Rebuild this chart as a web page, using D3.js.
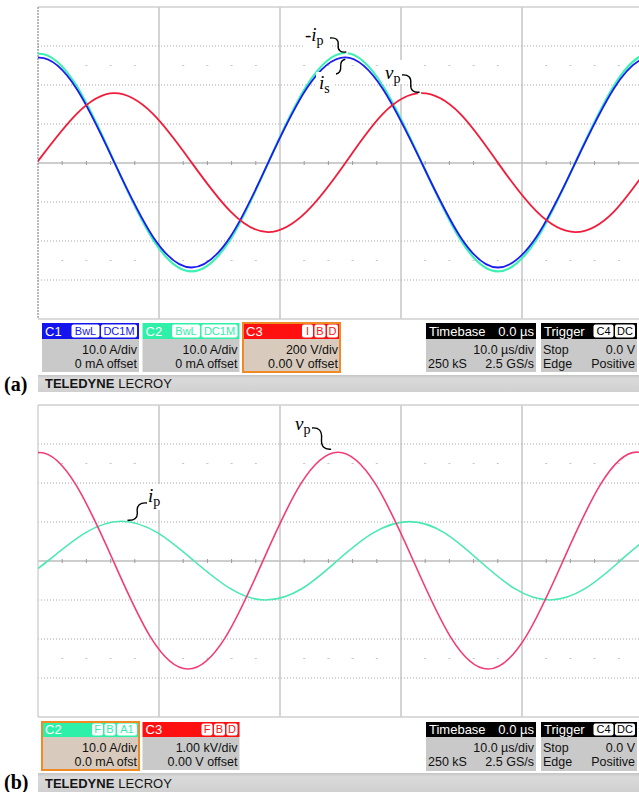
<!DOCTYPE html>
<html>
<head>
<meta charset="utf-8">
<script src="https://cdn.jsdelivr.net/npm/d3@7"></script>
<style>
  html, body { margin: 0; padding: 0; background: #fff; }
  svg { display: block; }
  .stat { font-family: "Liberation Sans", Arial, sans-serif; }
</style>
</head>
<body>
<svg id="chart" width="639" height="792"></svg>
<script>
// ---- Panel (a): currents (A) and primary voltage (V) versus time (µs) ----
const timeA  = [-3.2, 0, 3.2, 6.3, 9.5, 12.7, 15.9, 19.0, 22.2, 25.4, 28.5, 31.7, 34.9, 38.0, 41.2, 44.4, 47.6, 50.7, 53.9];
const isA    = [19.0, 27.0, 19.0, 0.2, -18.9, -26.8, -18.9, -0.1, 19.1, 27.1, 19.0, 0.1, -18.9, -26.8, -18.9, 0.0, 19.1, 27.0, 19.0];
const ipNegA = [19.7, 28.0, 19.7, 0.3, -19.6, -27.8, -19.6, -0.1, 19.8, 28.2, 19.8, 0.2, -19.6, -27.8, -19.6, 0.1, 19.8, 28.0, 19.8];
const vpA    = [-249, 10, 252, 358, 252, 2, -248, -354, -249, 0, 252, 358, 252, 2, -248, -354, -249, 0, 252];

// ---- Panel (b): primary voltage (kV) and primary current (A) ----
const timeBv = [-3.1, 0, 3.1, 6.2, 9.3, 12.4, 15.5, 18.6, 21.7, 24.8, 27.9, 31.0, 34.1, 37.2, 40.3, 43.4, 46.5, 49.6, 52.7];
const vpB    = [1.96, 2.78, 1.97, 0.02, -1.95, -2.77, -1.95, 0.01, 1.97, 2.79, 1.97, 0.02, -1.95, -2.77, -1.95, 0.01, 1.97, 2.79, 1.97];
const timeBi = [-2.2, 0.8, 3.9, 6.9, 9.9, 12.9, 15.9, 18.8, 21.8, 24.7, 27.7, 30.7, 33.6, 36.5, 39.4, 42.3, 45.2, 48.1, 51.0, 54.0];
const ipB    = [-7.1, 0, 7.2, 10.2, 7.2, 0, -7.1, -10.0, -7.1, 0, 7.2, 10.1, 7.2, 0, -7.1, -10.0, -7.1, 0, 7.1, 10.1];

// ---- Readout panel texts ----
const chanA = [
  { name: "C1", tags: ["BwL", "DC1M"], lines: ["10.0 A/div", "0 mA offset"], color: "#1414ee", active: false },
  { name: "C2", tags: ["BwL", "DC1M"], lines: ["10.0 A/div", "0 mA offset"], color: "#2ef0a8", active: false },
  { name: "C3", tags: ["I", "B", "D"],  lines: ["200 V/div", "0.00 V offset"], color: "#ff1010", active: true }
];
const chanB = [
  { name: "C2", tags: ["F", "B", "A1"], lines: ["10.0 A/div", "0.0 mA ofst"], color: "#2ef0a8", active: true },
  { name: "C3", tags: ["F", "B", "D"],  lines: ["1.00 kV/div", "0.00 V offset"], color: "#ff1010", active: false }
];
const timebaseText = { head: ["Timebase", "0.0 µs"], lines: [["", "10.0 µs/div"], ["250 kS", "2.5 GS/s"]] };
const triggerText  = { head: ["Trigger"], tags: ["C4", "DC"], lines: [["Stop", "0.0 V"], ["Edge", "Positive"]] };

const svg = d3.select("#chart");
const W = 639;
const left = 38, right = 643;
const divPx = 39;
const FS = 12.5;      // readout font size
const LINE = 14;      // readout line spacing

const x = d3.scaleLinear().domain([0, 50]).range([left, right]);

function zip(ts, vs) { return ts.map((t, i) => [t, vs[i]]); }

function drawGrid(g, top, bottom, leftStroke, dashedLeft) {
  const mid = (top + bottom) / 2;
  // vertical major lines every 10 µs
  g.selectAll(".vg").data([10, 20, 30, 40]).join("line")
    .attr("x1", d => x(d)).attr("x2", d => x(d))
    .attr("y1", top).attr("y2", bottom)
    .attr("stroke", "#d4d4d4").attr("stroke-width", 2);
  // horizontal dotted lines, one per division
  const hdiv = d3.range(1, 8).filter(i => i !== 4);
  g.selectAll(".hg").data(hdiv).join("line")
    .attr("x1", left).attr("x2", W)
    .attr("y1", i => top + i * divPx).attr("y2", i => top + i * divPx)
    .attr("stroke", "#a8a8a8").attr("stroke-width", 1)
    .attr("stroke-dasharray", "1,2");
  // centre line with minor ticks every 2 µs
  g.append("line").attr("x1", left).attr("x2", W).attr("y1", mid).attr("y2", mid)
    .attr("stroke", "#bdbdbd").attr("stroke-width", 1.5);
  const minor = d3.range(2, 52, 2).filter(t => t % 10 !== 0);
  g.selectAll(".mt").data(minor).join("line")
    .attr("x1", d => x(d)).attr("x2", d => x(d))
    .attr("y1", mid - 2).attr("y2", mid + 2)
    .attr("stroke", "#9a9a9a").attr("stroke-width", 1);
  // faint tick rows at ±2.5 divisions
  [mid - 2.5 * divPx, mid + 2.5 * divPx].forEach(yy => {
    g.selectAll(null).data(minor).join("line")
      .attr("x1", d => x(d) - 1).attr("x2", d => x(d) + 1)
      .attr("y1", yy).attr("y2", yy)
      .attr("stroke", "#c4c4c4").attr("stroke-width", 1);
  });
  // frame
  g.append("line").attr("x1", left).attr("x2", W).attr("y1", top).attr("y2", top)
    .attr("stroke", "#cfcfcf").attr("stroke-width", 1.5);
  g.append("line").attr("x1", left).attr("x2", W).attr("y1", bottom).attr("y2", bottom)
    .attr("stroke", "#cfcfcf").attr("stroke-width", 1.5);
  g.append("line").attr("x1", left).attr("x2", left).attr("y1", top).attr("y2", bottom)
    .attr("stroke", leftStroke).attr("stroke-width", 1.2).attr("stroke-dasharray", dashedLeft ? "2,1" : null);
}

function drawTrace(g, pts, yScale, color, width, clipId) {
  const line = d3.line().x(d => x(d[0])).y(d => yScale(d[1])).curve(d3.curveNatural);
  g.append("path").attr("d", line(pts))
    .attr("fill", "none").attr("stroke", color).attr("stroke-width", width)
    .attr("clip-path", `url(#${clipId})`);
}

function label(g, main, sub, tx, ty, prefix) {
  const t = g.append("text")
    .attr("x", tx).attr("y", ty)
    .attr("font-family", "'Liberation Serif', 'DejaVu Serif', serif")
    .attr("font-size", 19).attr("fill", "#000");
  if (prefix) t.append("tspan").text(prefix);
  t.append("tspan").attr("font-style", "italic").text(main);
  t.append("tspan").attr("font-size", 14).attr("dy", 4).text(sub);
  return t;
}

function leader(g, x0, y0, x1, y1) {
  // small S-shaped leader from the label to the trace
  const mx = (x0 + x1) / 2, my = (y0 + y1) / 2;
  const p = d3.path();
  p.moveTo(x0, y0);
  p.quadraticCurveTo(x0 + (x1 - x0) * 0.55, y0 - 1, mx, my);
  p.quadraticCurveTo(x1 - (x1 - x0) * 0.55, y1 + 1, x1, y1);
  g.append("path").attr("d", p.toString()).attr("fill", "none")
    .attr("stroke", "#000").attr("stroke-width", 1.4);
}

const defs = svg.append("defs");
function addClip(id, top, bottom) {
  defs.append("clipPath").attr("id", id).append("rect")
    .attr("x", left).attr("y", top).attr("width", W - left).attr("height", bottom - top);
}

// ================= Panel (a) =================
const topA = 7, botA = topA + 8 * divPx;
const yIA = d3.scaleLinear().domain([-40, 40]).range([botA, topA]);
const yVA = d3.scaleLinear().domain([-800, 800]).range([botA, topA]);
addClip("clipA", topA, botA);
const gA = svg.append("g");
drawGrid(gA, topA, botA, "#8a8a8a", true);
drawTrace(gA, zip(timeA, ipNegA), yIA, "#3cf0b4", 2.2, "clipA");
drawTrace(gA, zip(timeA, isA), yIA, "#1c1cf0", 1.8, "clipA");
drawTrace(gA, zip(timeA, vpA), yVA, "#f21c3a", 1.8, "clipA");

// annotations (a)
const pkI = [25.4, 28.2], pkIs = [25.4, 27.1], pkV = [31.7, 358];
gA.append("rect").attr("x", 303).attr("y", 22).attr("width", 28).attr("height", 26).attr("fill", "#fff");
gA.append("rect").attr("x", 316).attr("y", 72).attr("width", 18).attr("height", 24).attr("fill", "#fff");
gA.append("rect").attr("x", 382).attr("y", 60).attr("width", 24).attr("height", 24).attr("fill", "#fff");
gA.append("circle").attr("cx", x(pkI[0]) + 1).attr("cy", yIA(pkI[1])).attr("r", 1.6).attr("fill", "#fff");
gA.append("circle").attr("cx", x(pkV[0]) - 2).attr("cy", yVA(pkV[1])).attr("r", 1.6).attr("fill", "#fff");
label(gA, "i", "p", 305, 41, "-");
leader(gA, 330, 38, x(pkI[0]) + 1, yIA(pkI[1]) - 1);
label(gA, "i", "s", 319, 89);
leader(gA, 336, 74, x(pkIs[0]), yIA(pkIs[1]) + 2);
label(gA, "v", "p", 385, 79);
leader(gA, 402, 75, x(pkV[0]) - 2, yVA(pkV[1]) - 1);

// ================= Panel (b) =================
const topB = 405, botB = topB + 8 * divPx;
const yIB = d3.scaleLinear().domain([-40, 40]).range([botB, topB]);
const yVB = d3.scaleLinear().domain([-4, 4]).range([botB, topB]);
addClip("clipB", topB, botB);
const gB = svg.append("g");
drawGrid(gB, topB, botB, "#c8c8c8", false);
drawTrace(gB, zip(timeBi, ipB), yIB, "#4ae8b2", 1.6, "clipB");
drawTrace(gB, zip(timeBv, vpB), yVB, "#f23c76", 1.6, "clipB");

const pkIB = [6.9, 10.2], pkVB = [24.8, 2.79];
gB.append("rect").attr("x", 144).attr("y", 484).attr("width", 22).attr("height", 26).attr("fill", "#fff");
gB.append("rect").attr("x", 292).attr("y", 411).attr("width", 24).attr("height", 26).attr("fill", "#fff");
label(gB, "i", "p", 148, 502);
leader(gB, 147, 503, x(pkIB[0]) + 6, yIB(pkIB[1]) - 1);
label(gB, "v", "p", 295, 430);
leader(gB, 312, 428, x(pkVB[0]) - 7, yVB(pkVB[1]) - 3);

// ================= Readout panels =================
function tagBoxes(g, tags, xRight, y, h, textColor) {
  let xr = xRight;
  const widths = tags.map(t => t.length === 1 ? 11 : t.length * 8 + 4);
  for (let i = tags.length - 1; i >= 0; i--) {
    const w = widths[i];
    const xl = xr - w;
    g.append("rect").attr("x", xl).attr("y", y).attr("width", w).attr("height", h)
      .attr("rx", 2).attr("fill", "#fff");
    g.append("text").attr("x", xl + w / 2).attr("y", y + h - 3)
      .attr("text-anchor", "middle").attr("font-size", 11).attr("fill", textColor)
      .text(tags[i]);
    xr = xl - 1.5;
  }
}

function channelBox(g, c, x0, y0, headH, bodyH) {
  const w = 97;
  const bg = c.active ? "#d8cbbd" : "#c9c9c9";
  g.append("rect").attr("x", x0).attr("y", y0 + headH).attr("width", w).attr("height", bodyH).attr("fill", bg);
  g.append("rect").attr("x", x0).attr("y", y0).attr("width", w).attr("height", headH).attr("fill", c.color);
  g.append("text").attr("x", x0 + 3).attr("y", y0 + headH - 3)
    .attr("font-size", 13).attr("fill", "#fff").text(c.name);
  tagBoxes(g, c.tags, x0 + w - 2, y0 + 1.5, headH - 3, c.color);
  c.lines.forEach((ln, i) => {
    g.append("text").attr("x", x0 + w - 2).attr("y", y0 + headH + 15 + i * LINE)
      .attr("text-anchor", "end").attr("font-size", FS).attr("fill", "#111").text(ln);
  });
  if (c.active) {
    g.append("rect").attr("x", x0).attr("y", y0).attr("width", w).attr("height", headH + bodyH)
      .attr("fill", "none").attr("stroke", "#f08a24").attr("stroke-width", 2);
  }
}

function infoBox(g, info, x0, w, y0, headH, bodyH) {
  g.append("rect").attr("x", x0).attr("y", y0 + headH).attr("width", w).attr("height", bodyH).attr("fill", "#c9c9c9");
  g.append("rect").attr("x", x0).attr("y", y0).attr("width", w).attr("height", headH).attr("fill", "#000");
  g.append("text").attr("x", x0 + 3).attr("y", y0 + headH - 3)
    .attr("font-size", 13).attr("fill", "#fff").text(info.head[0]);
  if (info.head[1]) {
    g.append("text").attr("x", x0 + w - 2).attr("y", y0 + headH - 3).attr("text-anchor", "end")
      .attr("font-size", 13).attr("fill", "#fff").text(info.head[1]);
  }
  if (info.tags) tagBoxes(g, info.tags, x0 + w - 2, y0 + 1.5, headH - 3, "#000");
  info.lines.forEach((ln, i) => {
    const yy = y0 + headH + 15 + i * LINE;
    if (ln[0]) g.append("text").attr("x", x0 + 2).attr("y", yy).attr("font-size", FS).attr("fill", "#111").text(ln[0]);
    g.append("text").attr("x", x0 + w - 2).attr("y", yy).attr("text-anchor", "end")
      .attr("font-size", FS).attr("fill", "#111").text(ln[1]);
  });
}

function brandBar(g, y0, h, tag) {
  const gradId = "bar" + tag;
  const grad = defs.append("linearGradient").attr("id", gradId).attr("x1", 0).attr("x2", 0).attr("y1", 0).attr("y2", 1);
  grad.append("stop").attr("offset", 0).attr("stop-color", "#c4c4c4");
  grad.append("stop").attr("offset", 0.2).attr("stop-color", "#dadada");
  grad.append("stop").attr("offset", 1).attr("stop-color", "#d0d0d0");
  g.append("rect").attr("x", left).attr("y", y0).attr("width", W - left).attr("height", h).attr("fill", `url(#${gradId})`);
  const t = g.append("text").attr("x", 45).attr("y", y0 + h - 4).attr("font-size", 13)
    .attr("font-family", "'Liberation Sans Narrow', 'Liberation Sans', Arial, sans-serif").attr("fill", "#151515");
  t.append("tspan").attr("font-weight", "bold").text("TELEDYNE");
  t.append("tspan").attr("dx", 4).text("LECROY");
}

function panelTag(txt, y) {
  svg.append("text").attr("x", 4).attr("y", y)
    .attr("font-family", "'Liberation Serif', 'DejaVu Serif', serif")
    .attr("font-weight", "bold").attr("font-size", 20).attr("fill", "#000").text(txt);
}

// status strip (a)
const sA = svg.append("g").attr("class", "stat");
chanA.forEach((c, i) => channelBox(sA, c, 42 + i * 100.5, 323, 16, 33));
infoBox(sA, timebaseText, 426, 110, 323, 16, 33);
infoBox(sA, triggerText, 541, 96, 323, 16, 33);
brandBar(sA, 375, 17, "a");
panelTag("(a)", 391);

// status strip (b)
const sB = svg.append("g").attr("class", "stat");
chanB.forEach((c, i) => channelBox(sB, c, 42 + i * 100.5, 722, 15, 33));
infoBox(sB, timebaseText, 426, 110, 722, 15, 34);
infoBox(sB, triggerText, 541, 96, 722, 15, 34);
brandBar(sB, 773, 19, "b");
panelTag("(b)", 789);
</script>
</body>
</html>
